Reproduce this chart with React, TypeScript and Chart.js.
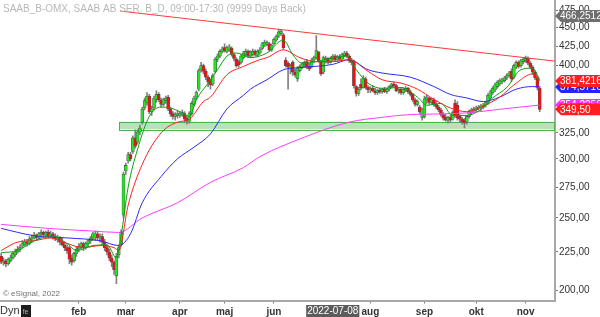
import React, { useEffect, useRef } from "react";
import { Chart, registerables } from "chart.js";

Chart.register(...registerables);

const FONT = '"Liberation Sans", Arial, sans-serif';

// Daily candles [open, high, low, close] per month (trading days)
const dec21 = [
  [222,224,217,218],[218,221,216,219],[219,220,215,217],[217,221,216,220],[219,223,218,221],
  [221,225,220,224],[223,227,222,225],[225,229,224,227],[227,230,225,228],[229,233,228,231],
  [230,234,229,232],[232,234,229,231],[231,236,230,234]];
const jan22 = [
  [234,237,232,235],[235,239,234,237],[237,238,233,235],[235,239,234,238],[238,241,236,239],
  [239,240,235,237],[237,240,235,239],[239,241,235,236],[236,240,235,238],[238,239,234,236],
  [236,238,233,234],[234,237,232,235],[235,236,230,232],[232,235,229,230],[230,232,226,228],
  [228,230,224,226],[228,229,217,220],[221,223,216,218],[219,225,218,224],[224,229,222,227]];
const feb22 = [
  [227,231,225,229],[229,232,227,231],[231,232,226,228],[228,232,227,231],[231,234,229,233],
  [233,236,231,235],[235,239,233,238],[235,240,233,238],[238,240,233,235],[235,238,232,236],
  [236,238,230,232],[232,234,226,228],[228,230,223,225],[225,227,219,221],[221,223,215,218],
  [218,219,210,213],[209,224,204,222],[223,230,221,228],[230,241,229,239],[252,288,250,286]];
const mar22 = [
  [289,296,286,294],[298,306,296,304],[304,306,298,300],[307,322,305,320],[320,328,310,312],
  [316,328,314,326],[326,333,323,330],[336,352,334,350],[351,362,349,359],[357,368,354,364],
  [364,366,345,347],[347,353,343,350],[351,364,349,362],[360,370,357,366],[366,368,358,360],
  [360,362,352,355],[355,362,353,360],[359,364,356,362],[363,365,348,350],[350,352,342,345],
  [345,347,339,342],[342,346,338,344],[343,348,340,345]];
const apr22 = [
  [343,347,341,345],[344,349,342,346],[345,347,336,339],[340,342,334,337],[337,347,335,345],
  [345,358,343,356],[355,364,353,362],[363,370,360,368],[372,396,370,394],[395,404,392,400],
  [400,402,390,393],[393,396,383,386],[386,388,375,380],[382,384,372,377],[378,390,376,388],
  [393,410,391,408],[408,415,405,412],[412,420,410,418],[418,424,416,421]];
const may22 = [
  [423,428,417,419],[418,425,416,423],[420,427,418,424],[422,424,412,414],[414,416,406,409],
  [408,410,398,400],[405,407,398,401],[404,414,402,412],[410,418,408,416],[414,421,412,418],
  [418,420,410,412],[412,419,410,417],[414,421,412,418],[418,420,412,414],[413,420,411,418],
  [416,423,414,420],[422,430,420,428],[426,433,424,430],[427,432,425,430],[428,430,418,420],
  [420,428,418,426]];
const jun22 = [
  [428,436,426,434],[433,440,431,438],[438,448,436,444],[442,447,439,445],[440,442,421,423],
  [407,410,398,400],[403,405,372,398],[396,402,390,400],[404,406,388,392],[392,396,386,389],
  [384,399,381,397],[394,401,392,399],[398,404,396,402],[401,406,398,404],[405,408,396,398],
  [398,403,394,396],[399,409,397,407],[407,412,404,410],[410,439,408,419],[417,418,404,406]];
const jul22 = [
  [404,406,388,390],[392,412,390,410],[405,412,403,409],[409,410,402,404],[404,411,403,409],
  [409,414,406,412],[412,414,405,407],[407,413,405,411],[411,414,406,408],[408,416,406,414],
  [413,418,411,416],[416,418,410,412],[412,414,404,406],[407,409,401,404],[405,407,373,376],
  [375,376,364,367],[367,374,365,372],[378,384,371,373],[374,388,373,385],[384,386,372,374],
  [374,376,368,371]];
const aug22 = [
  [371,375,368,373],[373,376,369,370],[370,373,366,368],[368,372,366,371],[371,373,367,369],
  [369,373,367,372],[372,374,368,369],[369,373,367,372],[372,376,370,375],[375,379,373,378],
  [378,380,374,376],[376,378,369,370],[370,374,367,372],[372,374,366,368],[368,373,366,372],
  [372,375,369,373],[373,374,367,369],[369,371,364,366],[366,367,358,360],[360,362,353,355],
  [355,360,353,358],[352,354,345,347],[341,351,338,349]];
const sep22 = [
  [342,364,340,361],[360,365,356,363],[362,363,355,357],[357,362,355,360],[360,362,353,355],
  [355,358,350,352],[352,354,347,349],[349,351,342,344],[344,346,338,340],[341,344,337,338],
  [338,342,335,341],[341,343,336,338],[339,348,338,346],[356,360,341,343],[354,358,338,340],
  [342,344,336,339],[339,341,334,336],[338,340,330,335],[336,343,334,342],[342,349,340,347],
  [346,351,344,349],[348,352,346,350]];
const oct22 = [
  [349,353,347,351],[351,354,349,352],[352,355,348,353],[352,356,350,354],[354,358,352,357],
  [357,367,355,365],[362,371,360,369],[368,375,366,373],[371,379,369,377],[375,382,373,380],
  [378,384,376,382],[381,385,378,383],[382,387,380,385],[385,390,383,388],[388,393,386,391],
  [393,396,381,384],[386,402,384,400],[398,406,396,404],[404,406,397,399],[400,408,398,406],
  [405,410,402,408]];
const nov22 = [
  [407,412,404,409],[409,411,401,403],[403,405,396,398],[398,400,389,392],[392,394,383,385],
  [385,387,371,374],[373,375,347,349.5]];

const monthNames = ["dec","jan","feb","mar","apr","maj","jun","jul","aug","sep","okt","nov"];
const hiddenMonthLabels = ["dec","jan","jul"];
const monthBlocks = [dec21, jan22, feb22, mar22, apr22, may22, jun22, jul22, aug22, sep22, oct22, nov22];
const emptySlots = 6;

// Moving averages: [bar index, value]
const maGreen = [[0,224.5],[7,226],[14,232.7],[21,236.6],[28,231],[32,226],[39,229.5],[45,230],[49,221],[51,236.6],[54,275],[58,309],[63,342],[68,352],[72,351],[76,347],[80,342],[83,360],[88,379],[92,395],[96,412],[100,416],[106,410],[113,416],[120,433],[124,413.7],[128,403],[134,405],[141,410],[147,412],[151,395],[156,379],[162,373],[170,374],[177,363],[181,354],[187,356],[192,343],[198,343],[204,349.6],[209,362],[215,374],[221,395],[226,397],[229,383]];
const maRed = [[0,226],[7,232],[14,233],[21,235],[28,231],[35,228],[42,229.5],[48,228],[50,226],[54,260],[60,295],[68,325],[75,336],[80,339],[86,358],[89,363],[96,389],[103,399],[110,407.5],[113,410],[120,420],[127,410],[134,405],[141,405],[148,407.5],[156,393],[162,383],[170,379],[177,372],[184,360.5],[191,351],[198,347],[205,353],[212,363],[219,379],[226,390],[229,381.4]];
const maBlue = [[0,242],[14,236.6],[28,235],[42,233],[50,229.5],[55,238],[60,262],[68,284],[75,300],[82,311],[89,324],[96,350],[103,365],[106,372],[113,383],[120,395],[127,397.6],[141,401.6],[148,407.5],[156,395],[162,391],[174,386],[184,375],[191,366],[198,362],[205,358],[212,363],[219,372],[226,375],[229,374.6]];
const maMagenta = [[0,245],[20,242],[39,240],[50,239],[60,250],[75,262],[89,279],[103,292],[110,302],[127,319],[148,336],[162,341],[174,344],[184,344.5],[198,345.7],[212,349.6],[229,354.2]];

const trendLine = [[50.5,473.5],[235.5,405.6]];
const zoneStart = 50.1;
const zoneTop = 336.4;
const zoneBottom = 328.6;

const yTicks = [200,225,250,275,300,325,350,375,400,425,450,475];
const yMin = 193.7;
const yMax = 489.9;

const tagValues = [466.25128, 374.5716, 381.42165, 354.2256, 349.5];
const tagTexts = ["466,25128", "374,5716", "381,42165", "354,2256", "349,50"];
const tagColors = ["#6e6e6e", "#2424ff", "#ff1e1e", "#ff2cff", "#ff1e1e"];

const crosshairIndex = 141;
const crosshairLabel = "2022-07-08";
const titleText = "SAAB_B-OMX, SAAB AB SER. B_D, 09:00-17:30 (9999 Days Back)";
const copyText = "\u00A9 eSignal, 2022";

export default function App() {
  const ref = useRef<HTMLCanvasElement>(null);
  useEffect(() => {
    const candles = monthBlocks.flat();
    let acc = 0;
    const monthStarts = monthBlocks.map((b) => { const s = acc; acc += b.length; return s; });
    const tickEntries = monthNames
      .map((n, k) => ({ v: monthStarts[k], n }))
      .filter((t) => !hiddenMonthLabels.includes(t.n));
    const labelFor = (v: number) => {
      const t = tickEntries.find((e) => e.v === v);
      return t ? t.n : "";
    };

    const zonePlugin = {
      id: "zone",
      beforeDatasetsDraw(chart: any) {
        const { ctx, chartArea, scales } = chart;
        const x0 = scales.x.getPixelForValue(zoneStart);
        const x1 = chartArea.right;
        const yt = scales.y.getPixelForValue(zoneTop);
        const yb = scales.y.getPixelForValue(zoneBottom);
        ctx.save();
        ctx.fillStyle = "#b8e3b8";
        ctx.fillRect(x0, yt, x1 - x0, yb - yt);
        ctx.strokeStyle = "#4fb24f";
        ctx.lineWidth = 1;
        ctx.strokeRect(Math.round(x0) + 0.5, Math.round(yt) + 0.5, x1 - Math.round(x0) - 1, Math.round(yb - yt));
        ctx.restore();
      },
    };

    const overlayPlugin = {
      id: "overlay",
      afterDraw(chart: any) {
        const { ctx, scales, chartArea } = chart;
        ctx.save();
        ctx.textBaseline = "middle";
        ctx.textAlign = "left";
        ctx.font = `10px ${FONT}`;
        ctx.fillStyle = "#b8b8b8";
        ctx.fillText(titleText, 3, 9);
        ctx.font = `8px ${FONT}`;
        ctx.fillStyle = "#707070";
        ctx.fillText(copyText, 3, 294);
        ctx.font = `11px ${FONT}`;
        ctx.fillStyle = "#333";
        ctx.fillText("Dyn", 0, 311);
        ctx.fillStyle = "#1c1c1c";
        ctx.fillRect(21, 305, 10, 12);
        ctx.fillStyle = "#b0b0b0";
        ctx.font = `7px ${FONT}`;
        ctx.fillText("fe", 22.5, 312);
        // crosshair date box
        const cx = scales.x.getPixelForValue(crosshairIndex);
        ctx.font = `10px ${FONT}`;
        const w = ctx.measureText(crosshairLabel).width + 2;
        ctx.fillStyle = "#5c5c5c";
        ctx.fillRect(cx - w / 2, 305, w, 12);
        ctx.fillStyle = "#ffffff";
        ctx.textAlign = "center";
        ctx.fillText(crosshairLabel, cx, 311.5);
        // value tags
        ctx.textAlign = "left";
        const x0 = chartArea.right;
        tagValues.forEach((v, k) => {
          const y = scales.y.getPixelForValue(v);
          ctx.fillStyle = tagColors[k];
          ctx.beginPath();
          ctx.moveTo(x0, y);
          ctx.lineTo(x0 + 6, y - 6);
          ctx.lineTo(600, y - 6);
          ctx.lineTo(600, y + 6);
          ctx.lineTo(x0 + 6, y + 6);
          ctx.closePath();
          ctx.fill();
          ctx.fillStyle = "#ffffff";
          ctx.font = `10px ${FONT}`;
          ctx.fillText(tagTexts[k], x0 + 5, y + 0.5);
        });
        ctx.restore();
      },
    };

    const line = (data: number[][], color: string, order: number) => ({
      type: "line" as const,
      data: data.map(([x, y]) => ({ x, y })),
      borderColor: color,
      borderWidth: 1,
      pointRadius: 0,
      cubicInterpolationMode: "monotone" as const,
      order,
    });

    const chart = new Chart(ref.current as HTMLCanvasElement, {
      type: "bar",
      data: {
        datasets: [
          { ...line(trendLine, "#ff3a3a", 0), cubicInterpolationMode: "default" },
          line(maGreen, "#0e9e0e", 1),
          line(maRed, "#ff2020", 2),
          line(maBlue, "#2a2aff", 3),
          line(maMagenta, "#ff3cff", 4),
          {
            type: "bar",
            data: candles.map((c, i) => ({ x: i, y: [c[0], c[3]] })),
            backgroundColor: (ctx: any) => {
              const r = ctx.raw;
              return r && r.y[1] >= r.y[0] ? "#1ee81e" : "#f01010";
            },
            borderColor: "#505050",
            borderWidth: 0.6,
            borderSkipped: false,
            barThickness: 3,
            grouped: false,
            order: 5,
          } as any,
          {
            type: "bar",
            data: candles.map((c, i) => ({ x: i, y: [c[2], c[1]] })),
            backgroundColor: "#808080",
            barThickness: 1,
            grouped: false,
            order: 6,
          } as any,
        ],
      },
      options: {
        animation: false,
        responsive: false,
        maintainAspectRatio: false,
        events: [],
        layout: { padding: 0, autoPadding: false } as any,
        plugins: { legend: { display: false }, tooltip: { enabled: false }, title: { display: false } },
        scales: {
          x: {
            type: "linear",
            min: -0.5,
            max: candles.length + emptySlots - 0.5,
            offset: false,
            afterBuildTicks: (s: any) => { s.ticks = tickEntries.map((t) => ({ value: t.v })); },
            afterFit: (s: any) => { s.height = 16.5; s.paddingLeft = 0; s.paddingRight = 0; },
            ticks: {
              callback: (v: any) => labelFor(Number(v)),
              font: { size: 10, weight: "bold", family: FONT },
              color: "#333",
              padding: 3,
              maxRotation: 0,
              autoSkip: false,
            },
            grid: { drawOnChartArea: false, tickLength: 3, color: "#777", offset: false },
            border: { display: true, color: "#a8a8a8", width: 2 },
          },
          y: {
            type: "logarithmic",
            position: "right",
            min: yMin,
            max: yMax,
            afterBuildTicks: (s: any) => { s.ticks = yTicks.map((v) => ({ value: v })); },
            afterFit: (s: any) => { s.width = 45; s.paddingTop = 0; s.paddingBottom = 0; },
            ticks: {
              callback: (v: any) => Number(v).toFixed(2).replace(".", ","),
              font: { size: 10, family: FONT },
              color: "#333",
              padding: 1,
              autoSkip: false,
            },
            grid: { drawOnChartArea: false, tickLength: 3, color: "#777" },
            border: { display: true, color: "#a8a8a8", width: 2 },
          },
        } as any,
      },
      plugins: [zonePlugin, overlayPlugin],
    });
    return () => chart.destroy();
  }, []);
  return (
    <div style={{ position: "fixed", left: 0, top: 0, width: 600, height: 317, background: "#fff" }}>
      <canvas ref={ref} width={600} height={317} style={{ display: "block" }} />
    </div>
  );
}
